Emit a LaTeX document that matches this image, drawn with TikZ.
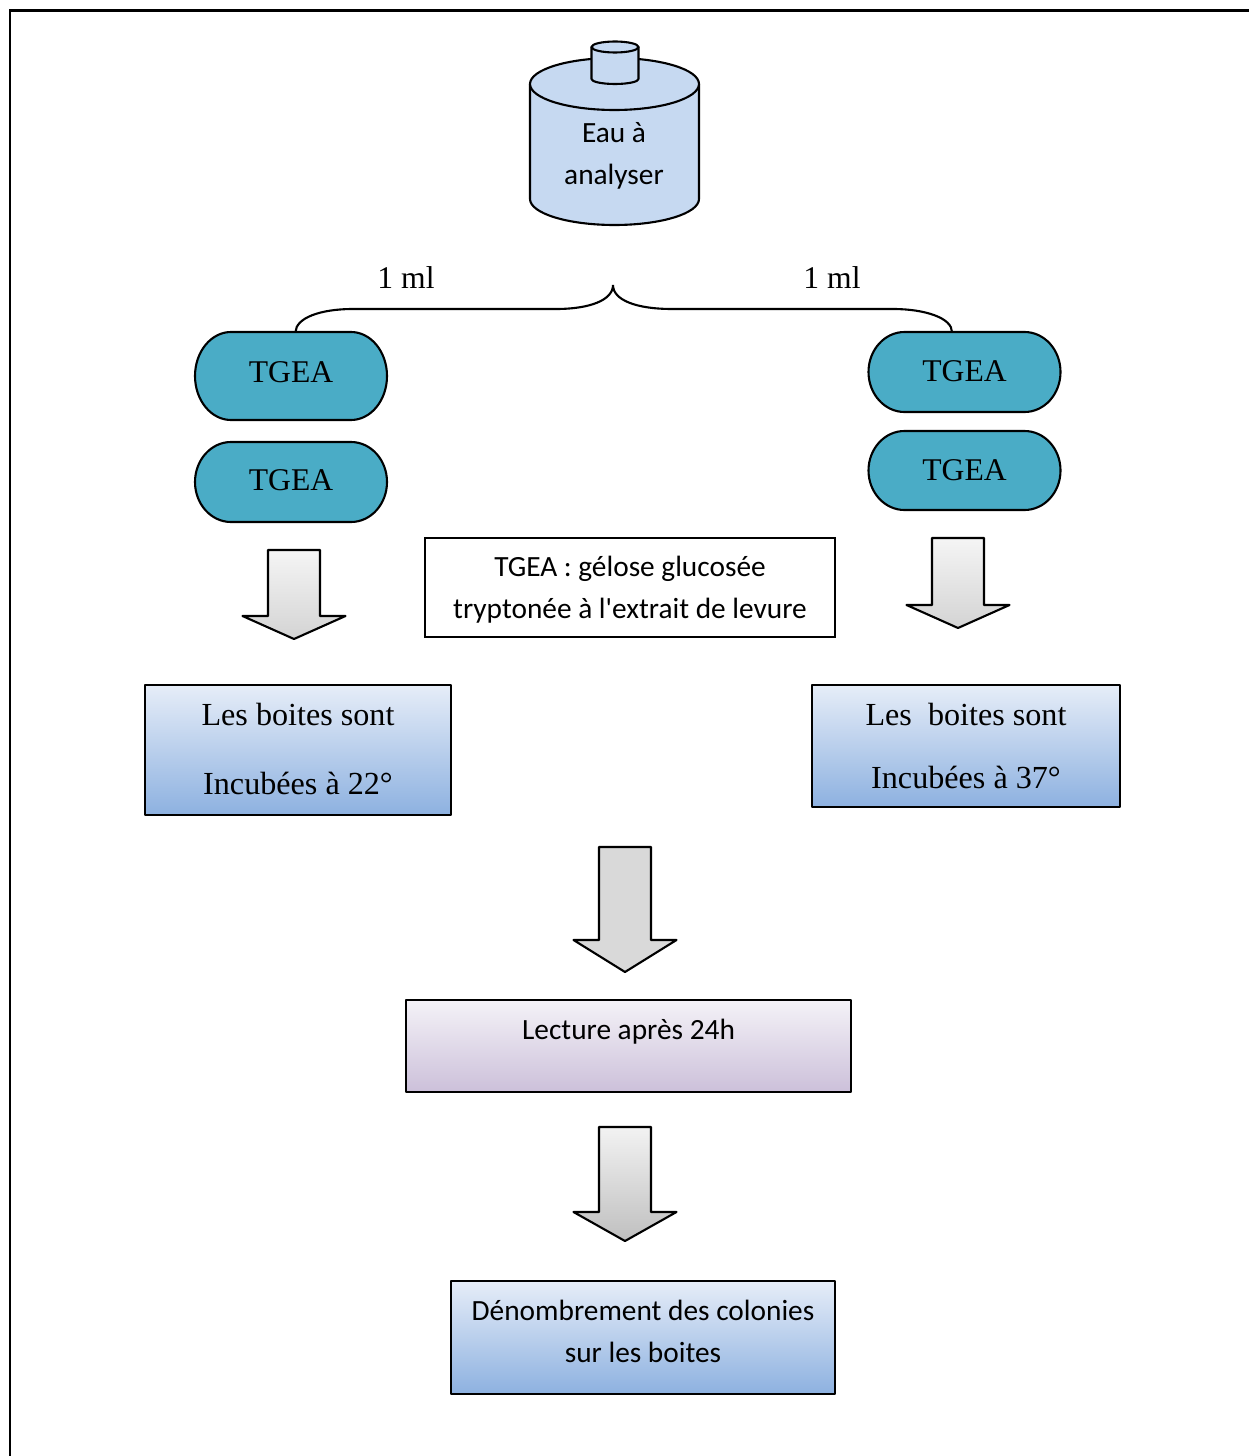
\documentclass[tikz,border=0pt]{standalone}
\usepackage{fontspec}
\setmainfont{Liberation Serif}
\newfontfamily\carlito{Carlito}
\definecolor{bottlefill}{HTML}{C6D9F1}
\definecolor{tgeafill}{HTML}{4AACC6}
\definecolor{bluetop}{HTML}{E6EDF8}
\definecolor{bluebottom}{HTML}{8DB1E0}
\definecolor{mauvetop}{HTML}{F4F2F7}
\definecolor{mauvebottom}{HTML}{CCC0DA}
\def\blockarrow[#1](#2,#3)(#4:#5){\draw[#1] (#2-26,#3) -- (#2+26,#3) -- (#2+26,#4) -- (#2+51.5,#4) -- (#2,#5) -- (#2-51.5,#4) -- (#2-26,#4) -- cycle;}
\def\plateshape(#1,#2)(#3){\draw[outline, fill=tgeafill] (#1-60,#2-#3) -- (#1+60,#2-#3) arc (-90:90:36 and #3) -- (#1-60,#2+#3) arc (90:270:36 and #3) -- cycle;}
\tikzset{
	outline/.style={draw=black, line width=1.2pt, line join=round},
	bluebox/.style={outline, top color=bluetop, bottom color=bluebottom, inner sep=0pt, align=center},
	mauvebox/.style={outline, top color=mauvetop, bottom color=mauvebottom, inner sep=0pt, align=center},
	serif/.style={font=\fontsize{18}{24}\selectfont, align=center},
	boxserif/.style={font=\fontsize{18.3}{24}\selectfont, align=center},
	sans/.style={font=\carlito\fontsize{16.7}{24}\selectfont, align=center},
}

\begin{document}
\begin{tikzpicture}[x=0.02cm, y=-0.02cm]
	%%%%% START %%%%%
	\useasboundingbox (0,0) rectangle (1249,1456);

	\draw[outline, line join=miter] (10,1456) -- (10,10.5) -- (1249,10.5);

	% bottle
	\draw[outline, fill=bottlefill] (530,84) -- (530,199) arc (180:0:84.5 and 26) -- (699,84) -- cycle;
	\draw[outline, fill=bottlefill] (614.5,84) ellipse (84.5 and 26);
	\draw[outline, fill=bottlefill] (591.5,47) -- (591.5,79) arc (180:0:23.5 and 5) -- (638.5,47) -- cycle;
	\draw[outline, fill=bottlefill] (615,47) ellipse (23.5 and 5.5);
	\node[sans] (bottle) at (614,156) {Eau à\\analyser};

	% brace
	\coordinate (braceleft) at (295.5,332);
	\coordinate (braceright) at (952,332);
	\coordinate (bracetip) at (613,285);
	\draw[line width=1.2pt] (braceleft) .. controls (296,318) and (320,309) .. (353,309) -- (556,309) .. controls (590,309) and (613,300) .. (bracetip) .. controls (613,300) and (636,309) .. (672,309) -- (893,309) .. controls (925,309) and (952,318) .. (braceright);
	\node[serif] (mlleft) at (406,278) {1 ml};
	\node[serif] (mlright) at (832,278) {1 ml};

	% plates
	\plateshape(291,376)(44)
	\plateshape(291,482)(40)
	\plateshape(964.5,372)(40)
	\plateshape(964.5,470.5)(39.5)
	\node[serif] (nameA) at (291,372) {TGEA};
	\node[serif] (nameB) at (291,480) {TGEA};
	\node[serif] (nameC) at (964.5,371) {TGEA};
	\node[serif] (nameD) at (964.5,470) {TGEA};

	% legend
	\node[draw=black, line width=1.2pt, minimum width=410*0.02cm, minimum height=99*0.02cm, inner sep=0pt] (legend) at (630,587.5) {};
	\node[sans] (legendname) at (630,589.5) {TGEA : gélose glucosée\\tryptonée à l'extrait de levure};

	% arrows
	\blockarrow[outline, top color=black!4, bottom color=black!17](294,550)(616:639)
	\blockarrow[outline, top color=black!4, bottom color=black!17](958,538)(605:628)
	\blockarrow[outline, fill=black!15](625,847)(940:972)
	\blockarrow[outline, top color=black!5, bottom color=black!25](625,1127)(1212:1241)

	% boxes
	\node[bluebox, minimum width=306*0.02cm, minimum height=130*0.02cm] (boxA) at (298,750) {};
	\node[boxserif] (textA) at (298,749) {Les boites sont\\[15.3pt]Incubées à 22°};
	\node[bluebox, boxserif, minimum width=308*0.02cm, minimum height=122*0.02cm] (boxB) at (966,746) {Les\ \ boites sont\\[11.9pt]Incubées à 37°};
	\node[mauvebox, minimum width=445*0.02cm, minimum height=92*0.02cm] (reading) at (628.5,1046) {};
	\node[sans] (readingname) at (628.5,1032) {Lecture après 24h};
	\node[bluebox, minimum width=384*0.02cm, minimum height=113*0.02cm] (count) at (643,1337.5) {};
	\node[sans] (countname) at (643,1331) {Dénombrement des colonies\\sur les boites};
	%%%%% END %%%%%
\end{tikzpicture}
\end{document}
